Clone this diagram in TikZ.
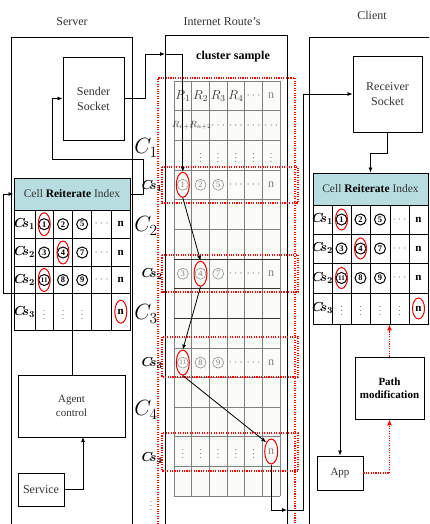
\RequirePackage{fix-cm}
\documentclass[tikz,border=0pt]{standalone}
\usepackage{fontspec}
\setmainfont{Liberation Serif}
\usetikzlibrary{arrows.meta,shapes.geometric}
\definecolor{hdr}{HTML}{B7DDE0}
\definecolor{txt}{HTML}{333333}
\definecolor{tblbg}{HTML}{FBFBF7}
\newcommand\mycs[1]{{\boldmath$C\mkern-4mu s_{#1}$}}
\begin{document}
\begin{tikzpicture}[x=1pt,y=-1pt,
  lbl/.style={font=\fontsize{12}{14}\selectfont, text=txt},
  box/.style={draw, line width=0.9pt, fill=white, align=center, font=\fontsize{12}{15}\selectfont, text=txt, inner sep=0pt},
  ln/.style={line width=0.8pt},
  arr/.style={line width=0.8pt, -{Latex[length=5pt,width=4pt]}},
  reddot/.style={draw=red, line width=1.5pt, dash pattern=on 1.1pt off 1.3pt},
  redarr/.style={reddot, -{Latex[length=6pt,width=5pt]}, red},
  redell/.style={ellipse, draw=red!90!black, line width=1pt, minimum width=12pt, minimum height=23pt, inner sep=0pt},
  cg/.style={circle, draw=gray, text=gray, line width=0.5pt, inner sep=0pt, minimum size=11pt, font=\fontsize{8.5}{8.5}\selectfont},
  cb/.style={circle, draw=black, text=black, line width=1pt, inner sep=0pt, minimum size=11pt, font=\bfseries\fontsize{8.5}{8.5}\selectfont},
  csl/.style={font=\fontsize{13}{13}\selectfont, inner sep=0pt},
  bigc/.style={font=\fontsize{22}{22}\selectfont, inner sep=0pt},
  gt/.style={text=gray, inner sep=0pt, font=\fontsize{12}{12}\selectfont},
  vd/.style={text=gray, inner sep=0pt, font=\fontsize{10}{10}\selectfont},
  rt/.style={inner sep=0pt, font=\fontsize{13}{13}\selectfont, text=txt},
  nb/.style={inner sep=0pt, font=\bfseries\fontsize{11}{11}\selectfont},
  hdrbox/.style={draw, line width=0.9pt, fill=hdr, inner sep=0pt, font=\fontsize{11.5}{12}\selectfont},
  tbl/.style={draw, line width=0.9pt, inner sep=0pt},
  grid/.style={draw=gray, line width=0.5pt},
  tline/.style={line width=0.9pt},
]
\useasboundingbox (0,0) rectangle (429,524);
\fill[white] (0,0) rectangle (429,524);

% titles
\node[lbl] (tS) at (72,22) {Server};
\node[lbl] (tI) at (222,22) {Internet Route's};
\node[lbl] (tC) at (372,15) {Client};

% frames
\draw[line width=0.9pt] (11,524) -- (11,37) -- (132,37) -- (132,524);
\draw[line width=1pt] (165,524) -- (165,36) -- (287,36) -- (287,524);
\draw[line width=0.9pt] (429,37) -- (309,37) -- (309,524);

\node[font=\bfseries\fontsize{12}{12}\selectfont] (cl) at (233,57) {cluster sample};

% middle table
\fill[tblbg] (174,81) rectangle (280,496);
\foreach \i in {0,...,6} \draw[grid] ({174+\i*17.667},81) -- ({174+\i*17.667},496);
\foreach \j in {0,...,14} \draw[grid] (174,{81+\j*29.643}) -- (280,{81+\j*29.643});
\foreach \j in {6,7,8} \draw[line width=0.6pt, black!80] (174,{81+\j*29.643}) -- (280,{81+\j*29.643});

% row 0
\node[rt] (m01) at (182.8,95.8) {$R_1$};
\node[rt] (m02) at (200.5,95.8) {$R_2$};
\node[rt] (m03) at (218.2,95.8) {$R_3$};
\node[rt] (m04) at (235.8,95.8) {$R_4$};
\node[gt] (m05) at (253.5,95.8) {$\cdots$};
\node[gt] (m06) at (271.2,95.8) {n};
% row 1
\node[rt,font=\fontsize{9}{9}\selectfont] (m11) at (182.8,125.5) {$R_{n+1}$};
\node[rt,font=\fontsize{9}{9}\selectfont] (m12) at (200.5,125.5) {$R_{n+2}$};
\node[gt] (m13) at (218.2,125.5) {$\cdots$};
\node[gt] (m14) at (235.8,125.5) {$\cdots$};
\node[gt] (m15) at (253.5,125.5) {$\cdots$};
\node[gt] (m16) at (271.2,125.5) {$\cdots$};
% row 2
\foreach \x [count=\k] in {182.8,200.5,218.2,235.8,253.5,271.2}
  \node[vd] (m2\k) at (\x,155.1) {$\vdots$};
% row 3
\node[cg] (m31) at (182.8,184.8) {1};
\node[cg] (m32) at (200.5,184.8) {2};
\node[cg] (m33) at (218.2,184.8) {5};
\node[gt] (m34) at (235.8,184.8) {$\cdots$};
\node[gt] (m35) at (253.5,184.8) {$\cdots$};
\node[gt] (m36) at (271.2,184.8) {n};
% row 6
\node[cg] (m61) at (182.8,273.7) {3};
\node[cg] (m62) at (200.5,273.7) {4};
\node[cg] (m63) at (218.2,273.7) {7};
\node[gt] (m64) at (235.8,273.7) {$\cdots$};
\node[gt] (m65) at (253.5,273.7) {$\cdots$};
\node[gt] (m66) at (271.2,273.7) {n};
% row 9
\node[cg,font=\fontsize{7}{7}\selectfont] (m91) at (182.8,362.6) {11};
\node[cg] (m92) at (200.5,362.6) {8};
\node[cg] (m93) at (218.2,362.6) {9};
\node[gt] (m94) at (235.8,362.6) {$\cdots$};
\node[gt] (m95) at (253.5,362.6) {$\cdots$};
\node[gt] (m96) at (271.2,362.6) {n};
% row 12
\foreach \x [count=\k] in {182.8,200.5,218.2,235.8,253.5}
  \node[vd] (mc\k) at (\x,451.5) {$\vdots$};
\node[gt] (mc6) at (271.2,451.5) {n};

\node[redell,minimum height=25pt,minimum width=13pt] (e1) at (m31) {};
\node[redell,minimum height=25pt,minimum width=13pt] (e4) at (m62) {};
\node[redell,minimum height=25pt,minimum width=13pt] (e11) at (m91) {};
\node[redell,minimum height=25pt,minimum width=13pt] (en) at (mc6) {};

% red dotted frames
\draw[reddot] (158,524) -- (158,78) -- (295,78) -- (295,524);
\draw[reddot] (162,167) rectangle (298,203);
\draw[reddot] (162,255) rectangle (298,292);
\draw[reddot] (162,337) rectangle (298,377);
\draw[reddot] (162,433) rectangle (298,471);

% C labels
\node[bigc] (C1) at (146,148) {$C_1$};
\node[bigc] (C2) at (146,226) {$C_2$};
\node[bigc] (C3) at (146,314) {$C_3$};
\node[bigc] (C4) at (146,410) {$C_4$};
\node[csl] (S1) at (152,186) {\mycs{1}};
\node[csl] (S2) at (152,274) {\mycs{2}};
\node[csl] (S3) at (152,363) {\mycs{3}};
\node[csl] (S4) at (152,458) {\mycs{4}};
\node[vd] (vdl) at (151,503) {$\vdots$};

% server side
\node[box, minimum width=61pt, minimum height=83pt] (ss) at (93.5,98.5) {Sender\\Socket};
\node[hdrbox, minimum width=116pt, minimum height=32pt] (lh) at (72,194)
  {\textcolor{txt}{Cell} \textbf{Reiterate} \textcolor{txt}{Index}};
\node[tbl, minimum width=116pt, minimum height=120pt] (lt) at (72,270) {};
\foreach \x in {35,53.3,72.7,91.7,111.7} \draw[tline] (\x,210) -- (\x,330);
\foreach \y in {238.3,266.7,293.3} \draw[tline] (14,\y) -- (130,\y);

\node[csl] (l11) at (24.5,224.2) {\mycs{1}};
\node[cb] (l12) at (44.2,224.2) {1};
\node[cb] (l13) at (63,224.2) {2};
\node[cb] (l14) at (82.2,224.2) {5};
\node[gt] (l15) at (101.7,224.2) {$\cdots$};
\node[nb] (l16) at (120.8,224.2) {n};
\node[csl] (l21) at (24.5,252.5) {\mycs{2}};
\node[cb] (l22) at (44.2,252.5) {3};
\node[cb] (l23) at (63,252.5) {4};
\node[cb] (l24) at (82.2,252.5) {7};
\node[gt] (l25) at (101.7,252.5) {$\cdots$};
\node[nb] (l26) at (120.8,252.5) {n};
\node[csl] (l31) at (24.5,280) {\mycs{2}};
\node[cb,font=\bfseries\fontsize{7}{7}\selectfont] (l32) at (44.2,280) {11};
\node[cb] (l33) at (63,280) {8};
\node[cb] (l34) at (82.2,280) {9};
\node[gt] (l35) at (101.7,280) {$\cdots$};
\node[nb] (l36) at (120.8,280) {n};
\node[csl] (l41) at (24.5,311.7) {\mycs{3}};
\node[vd] (l42) at (44.2,311.7) {$\vdots$};
\node[vd] (l43) at (63,311.7) {$\vdots$};
\node[vd] (l44) at (82.2,311.7) {$\vdots$};
\node[nb] (l46) at (120.8,311.7) {n};
\node[redell] (le1) at (l12) {};
\node[redell] (le4) at (l23) {};
\node[redell] (le11) at (l32) {};
\node[redell] (len) at (l46) {};

\node[box, minimum width=107pt, minimum height=62pt, font=\fontsize{11}{14}\selectfont] (ag) at (71.5,406) {Agent\\control};
\node[box, minimum width=46pt, minimum height=33pt] (sv) at (41,489.5) {Service};

% client side
\node[box, minimum width=69pt, minimum height=76pt] (rs) at (387.5,94) {Receiver\\Socket};
\node[hdrbox, minimum width=115pt, minimum height=32pt] (rh) at (370.5,189)
  {\textcolor{txt}{Cell} \textbf{Reiterate} \textcolor{txt}{Index}};
\node[tbl, minimum width=115pt, minimum height=119pt] (rtb) at (370.5,264.5) {};
\foreach \x in {332,351,370,390,409} \draw[tline] (\x,205) -- (\x,324);
\foreach \y in {234,263,293} \draw[tline] (313,\y) -- (428,\y);

\node[csl] (r11) at (322.5,219.5) {\mycs{1}};
\node[cb] (r12) at (341.5,219.5) {1};
\node[cb] (r13) at (360.5,219.5) {2};
\node[cb] (r14) at (380,219.5) {5};
\node[gt] (r15) at (399.5,219.5) {$\cdots$};
\node[nb] (r16) at (418.5,219.5) {n};
\node[csl] (r21) at (322.5,248.5) {\mycs{2}};
\node[cb] (r22) at (341.5,248.5) {3};
\node[cb] (r23) at (360.5,248.5) {4};
\node[cb] (r24) at (380,248.5) {7};
\node[gt] (r25) at (399.5,248.5) {$\cdots$};
\node[nb] (r26) at (418.5,248.5) {n};
\node[csl] (r31) at (322.5,278) {\mycs{2}};
\node[cb,font=\bfseries\fontsize{7}{7}\selectfont] (r32) at (341.5,278) {11};
\node[cb] (r33) at (360.5,278) {8};
\node[cb] (r34) at (380,278) {9};
\node[gt] (r35) at (399.5,278) {$\cdots$};
\node[nb] (r36) at (418.5,278) {n};
\node[csl] (r41) at (322.5,308.5) {\mycs{3}};
\node[vd] (r42) at (341.5,308.5) {$\vdots$};
\node[vd] (r43) at (360.5,308.5) {$\vdots$};
\node[vd] (r44) at (380,308.5) {$\vdots$};
\node[vd] (r45) at (399.5,308.5) {$\vdots$};
\node[nb] (r46) at (418.5,308.5) {n};
\node[redell,minimum height=21pt,minimum width=12pt] (re1) at (r12) {};
\node[redell,minimum height=21pt,minimum width=12pt] (re4) at (r23) {};
\node[redell,minimum height=21pt,minimum width=12pt] (re11) at (r32) {};
\node[redell,minimum height=21pt,minimum width=12pt] (ren) at (r46) {};

\node[box, minimum width=69pt, minimum height=62pt, font=\bfseries\fontsize{11}{13}\selectfont, text=black] (pm) at (389.5,388) {Path\\modification};
\node[box, minimum width=46pt, minimum height=34pt, font=\fontsize{11}{13}\selectfont] (app) at (340,473) {App};

% connectors
\coordinate (mtop) at (165,54);
\coordinate (mbot) at (287,510);
\coordinate (lc3) at (72.7,293.3);
\coordinate (agin) at (83,437);
\draw[arr] (ss.east) -- ++(21,0) |- (mtop);
\draw[arr] (mtop) -| (e1.north);
\draw[arr] (e1.south) -- (e4.north);
\draw[arr] (e4.south) -- (e11.north);
\draw[arr] (e11.south) -- (en.north west);
\draw[arr] (en.south) |- (mbot);
\draw[arr] (mbot) -- (303,510) |- (rs.west);
\draw[arr] (lh.east) -- ++(13,0) |- (52,159) |- (ss.west);
\draw[arr] (ag.north -| lc3) -- (lc3) -- (3,293.3) |- (lh.west);
\draw[arr] (sv.east) -| (agin);
\draw[arr] (rs.south) -- ++(0,21) -| (rh.north);
\draw[arr] (rtb.south -| app.north) -- (app.north);
\draw[redarr] (app.east) -| (pm.south);
\draw[redarr] (pm.north) -- (pm.north |- rtb.south);
\end{tikzpicture}
\end{document}
